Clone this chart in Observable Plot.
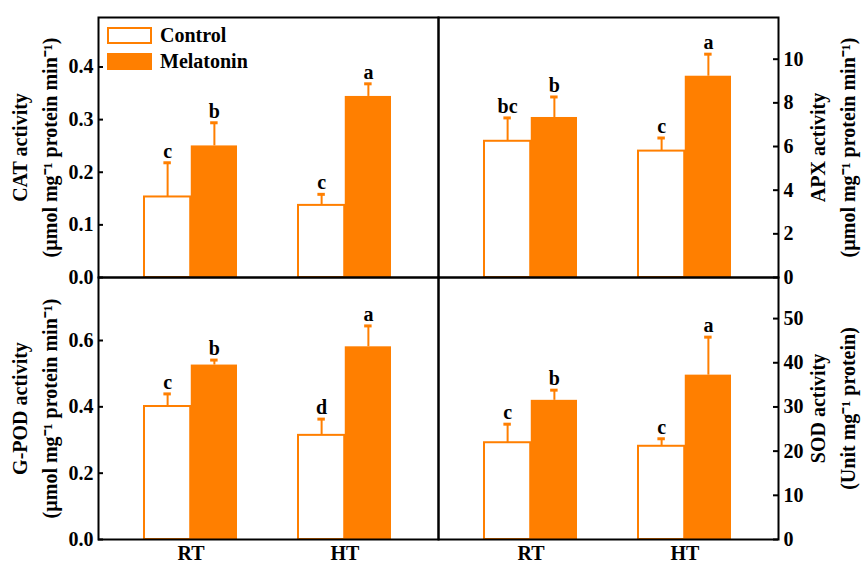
<!DOCTYPE html>
<html>
<head>
<meta charset="utf-8">
<script src="https://cdn.jsdelivr.net/npm/d3@7"></script>
<script src="https://cdn.jsdelivr.net/npm/@observablehq/plot@0.6"></script>
<style>
html, body { margin: 0; padding: 0; background: #fff; }
#chart { position: relative; width: 861px; height: 562px; font-family: "Liberation Serif", "Times New Roman", serif; font-weight: bold; }
#chart svg { position: absolute; left: 0; top: 0; overflow: visible; }
.legend { position: absolute; left: 107px; top: 27px; z-index: 5; }
.legend .row { display: flex; align-items: center; height: 17px; margin-bottom: 9px; }
.legend .sw { width: 45px; height: 17px; box-sizing: border-box; margin-right: 8px; }
.legend .lab { font-size: 20px; line-height: 17px; color: #000; }
</style>
</head>
<body>
<div id="chart"></div>
<script>
// ---------- data ----------
const groups = ["RT", "HT"];
const treatments = ["Control", "Melatonin"];

const catControl = [0.153, 0.137];
const catControlSd = [0.065, 0.021];
const catMelatonin = [0.250, 0.344];
const catMelatoninSd = [0.044, 0.024];
const catControlLetters = ["c", "c"];
const catMelatoninLetters = ["b", "a"];
const catTicks = [0, 0.1, 0.2, 0.3, 0.4];

const apxControl = [6.24, 5.79];
const apxControlSd = [1.07, 0.60];
const apxMelatonin = [7.33, 9.22];
const apxMelatoninSd = [0.94, 1.01];
const apxControlLetters = ["bc", "c"];
const apxMelatoninLetters = ["b", "a"];
const apxTicks = [0, 2, 4, 6, 8, 10];

const podControl = [0.401, 0.314];
const podControlSd = [0.038, 0.049];
const podMelatonin = [0.526, 0.581];
const podMelatoninSd = [0.015, 0.063];
const podControlLetters = ["c", "d"];
const podMelatoninLetters = ["b", "a"];
const podTicks = [0, 0.2, 0.4, 0.6];

const sodControl = [21.9, 21.1];
const sodControlSd = [4.2, 1.7];
const sodMelatonin = [31.5, 37.2];
const sodMelatoninSd = [2.3, 8.6];
const sodControlLetters = ["c", "c"];
const sodMelatoninLetters = ["b", "a"];
const sodTicks = [0, 10, 20, 30, 40, 50];

// ---------- style ----------
const ORANGE = "#ff7f00";
const FONT = '"Liberation Serif", "Times New Roman", serif';
const W = 861, H = 562;

function panel(cfg) {
  const left = cfg.side === "left" ? 98 : 438;
  const right = cfg.side === "left" ? 438 : 778;
  const top = cfg.row === "top" ? 17 : 277;
  const bottom = cfg.row === "top" ? 277 : 539;
  const fw = right - left;
  const pi = 0.395, po = 0.297;
  const step = fw / (groups.length - pi + 2 * po);
  const bw = step * (1 - pi);
  const q = bw / 4;

  const rows = [];
  groups.forEach((g, i) => {
    rows.push({group: g, treatment: treatments[0], value: cfg.ctrl[i], err: cfg.ctrl[i] + cfg.ctrlSd[i], letter: cfg.ctrlLetters[i]});
    rows.push({group: g, treatment: treatments[1], value: cfg.mel[i], err: cfg.mel[i] + cfg.melSd[i], letter: cfg.melLetters[i]});
  });
  const C = rows.filter(d => d.treatment === "Control");
  const M = rows.filter(d => d.treatment === "Melatonin");

  const marks = [
    Plot.barY(C, {x: "group", y: "value", fill: "white", stroke: ORANGE, strokeWidth: 2, insetRight: bw / 2}),
    Plot.barY(M, {x: "group", y: "value", fill: ORANGE, insetLeft: bw / 2}),
    Plot.ruleX(C, {x: "group", y1: "value", y2: "err", dx: -q, stroke: ORANGE, strokeWidth: 2}),
    Plot.ruleX(M, {x: "group", y1: "value", y2: "err", dx: q, stroke: ORANGE, strokeWidth: 2}),
    Plot.tickY(C, {x: "group", y: "err", insetLeft: q - 4, insetRight: bw - q - 4, stroke: ORANGE, strokeWidth: 3}),
    Plot.tickY(M, {x: "group", y: "err", insetLeft: 3 * q - 4, insetRight: q - 4, stroke: ORANGE, strokeWidth: 3}),
    Plot.text(C, {x: "group", y: "err", text: "letter", dx: -q, dy: -5, lineAnchor: "bottom", fontSize: 20, fontWeight: "bold", fill: "black"}),
    Plot.text(M, {x: "group", y: "err", text: "letter", dx: q, dy: -5, lineAnchor: "bottom", fontSize: 20, fontWeight: "bold", fill: "black"}),
    Plot.tickY(cfg.ticks, cfg.side === "left"
      ? {y: d => d, insetRight: fw - 5, stroke: "black", strokeWidth: 2}
      : {y: d => d, insetLeft: fw - 5, stroke: "black", strokeWidth: 2}),
    Plot.axisY({ticks: cfg.ticks, anchor: cfg.side, tickSize: 0, tickPadding: 5, tickFormat: cfg.fmt, fontSize: 20, fontWeight: "bold", label: null}),
    Plot.text([cfg.title], {frameAnchor: cfg.side, text: d => d, textAnchor: "middle", lineAnchor: "middle", rotate: -90, dx: cfg.side === "left" ? -66 : 52, lineHeight: 1.52, fontSize: 20, fontWeight: "bold", fill: "black"}),
    Plot.frame({stroke: "black", strokeWidth: 2})
  ];
  if (cfg.row === "bottom") {
    marks.push(Plot.axisX({anchor: "bottom", tickSize: 0, tickPadding: 6, fontSize: 20, fontWeight: "bold", label: null}));
  }

  return Plot.plot({
    width: W,
    height: H,
    marginLeft: left,
    marginRight: W - right,
    marginTop: top,
    marginBottom: H - bottom,
    style: {background: "transparent", fontFamily: FONT, fontSize: "20px", fontWeight: "bold", color: "black", overflow: "visible"},
    x: {domain: groups, paddingInner: pi, paddingOuter: po, axis: cfg.row === "top" ? null : undefined, label: null},
    y: {domain: cfg.domain, label: null},
    marks
  });
}

const chart = document.getElementById("chart");
chart.append(
  panel({side: "left", row: "top", ctrl: catControl, ctrlSd: catControlSd, mel: catMelatonin, melSd: catMelatoninSd,
    ctrlLetters: catControlLetters, melLetters: catMelatoninLetters, domain: [0, 0.494], ticks: catTicks, fmt: ".1f",
    title: "CAT activity\n(\u00b5mol mg\u207b\u00b9 protein min\u207b\u00b9)"}),
  panel({side: "right", row: "top", ctrl: apxControl, ctrlSd: apxControlSd, mel: apxMelatonin, melSd: apxMelatoninSd,
    ctrlLetters: apxControlLetters, melLetters: apxMelatoninLetters, domain: [0, 11.91], ticks: apxTicks, fmt: "d",
    title: "APX activity\n(\u00b5mol mg\u207b\u00b9 protein min\u207b\u00b9)"}),
  panel({side: "left", row: "bottom", ctrl: podControl, ctrlSd: podControlSd, mel: podMelatonin, melSd: podMelatoninSd,
    ctrlLetters: podControlLetters, melLetters: podMelatoninLetters, domain: [0, 0.79], ticks: podTicks, fmt: ".1f",
    title: "G-POD activity\n(\u00b5mol mg\u207b\u00b9 protein min\u207b\u00b9)"}),
  panel({side: "right", row: "bottom", ctrl: sodControl, ctrlSd: sodControlSd, mel: sodMelatonin, melSd: sodMelatoninSd,
    ctrlLetters: sodControlLetters, melLetters: sodMelatoninLetters, domain: [0, 59.3], ticks: sodTicks, fmt: "d",
    title: "SOD activity\n(Unit mg\u207b\u00b9 protein)"})
);

const legend = document.createElement("div");
legend.className = "legend";
treatments.forEach(t => {
  const row = document.createElement("div");
  row.className = "row";
  const sw = document.createElement("div");
  sw.className = "sw";
  if (t === "Control") { sw.style.background = "white"; sw.style.border = `2px solid ${ORANGE}`; }
  else { sw.style.background = ORANGE; }
  const lab = document.createElement("span");
  lab.className = "lab";
  lab.textContent = t;
  row.append(sw, lab);
  legend.append(row);
});
chart.append(legend);
</script>
</body>
</html>
